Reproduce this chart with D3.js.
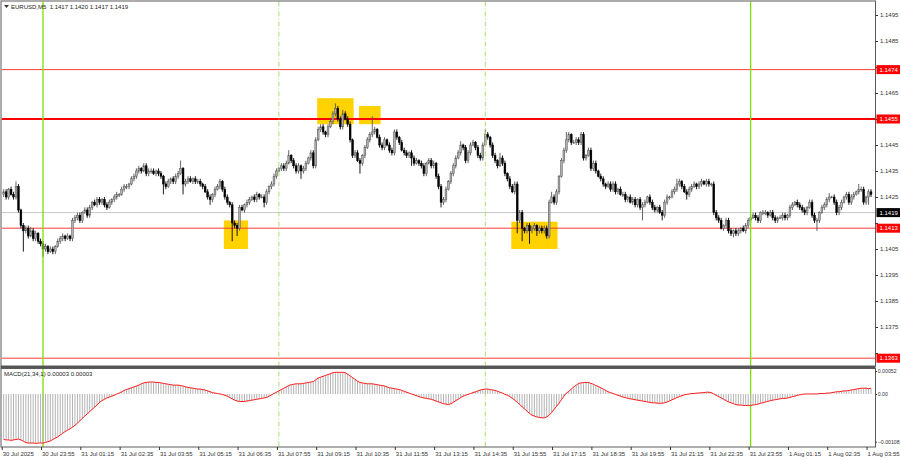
<!DOCTYPE html>
<html><head><meta charset="utf-8">
<script src="https://cdn.jsdelivr.net/npm/d3@7"></script>
<style>html,body{margin:0;padding:0;background:#fff;}svg{display:block;font-family:"Liberation Sans",Arial,sans-serif;}</style>
</head><body><svg id="c" width="900" height="460"></svg>
<script>
// closes in pips above 1.1400 (5-minute bars, open = previous close)
const firstOpen = 26;
const closes = [
27,25,28,26,25,29,20,14,12,13,
10,12,9,11,8,7,5,6,4,5,
4,6,8,9,10,9,10,9,16,17,
18,16,19,20,18,21,23,22,24,23,
24,22,21,23,24,25,26,26,28,29,
29,30,32,33,35,36,35,37,34,35,
35,34,35,34,33,30,29,31,32,31,
33,34,36,30,31,32,31,32,31,31,
30,29,27,25,24,26,28,29,31,28,
25,23,22,15,14,13,21,20,22,23,
24,25,24,26,25,25,23,27,29,30,
33,35,36,37,36,38,41,39,37,35,
37,35,36,38,40,42,37,47,51,52,
50,49,52,54,57,59,55,52,57,55,
53,47,41,42,39,38,41,44,47,49,
50,51,48,45,44,47,45,43,42,50,
48,46,43,42,41,42,40,38,39,38,
37,34,38,39,37,38,33,29,23,24,
28,31,34,37,40,42,45,44,39,42,
45,46,44,41,40,45,49,48,45,41,
39,37,40,38,34,32,29,27,30,16,
19,13,12,14,12,13,14,12,13,12,
13,10,23,25,23,27,33,39,43,47,
49,46,46,47,46,49,40,41,43,36,
38,35,33,32,30,29,30,28,30,27,
28,26,26,24,25,23,24,22,24,21,
22,23,25,23,21,20,21,19,18,23,
25,25,27,28,30,31,29,27,26,28,
29,30,29,30,31,30,31,30,30,19,
17,16,13,14,16,12,11,12,11,12,
13,12,14,16,17,18,17,16,19,19,
19,18,19,17,16,17,17,18,17,18,
21,22,23,22,21,20,19,21,23,18,
16,16,19,21,22,24,25,25,23,19,
21,23,25,26,23,25,26,27,28,28,
23,25,27,26];
// upper wick (pips above body)
const upWick = [
1,1,0.5,1,1,2,1,0.5,1,1,
1,1.5,1,1,0.5,1,1,1,0.5,1,
1,0.5,1,1,1,0.5,1,0.5,1,1,
1,1,0.5,1,1,1,0.5,1,1,1,
0.5,1,1,1,0.5,1,1,0.5,1,1,
1,0.5,1,1,1,1,0.5,1,1,1,
1,1,0.5,1,1,0.5,1,1,0.5,1,
1,1,3,0.5,1,1,1,0.5,1,1,
1,0.5,1,1,1,0.5,1,1,1,0.5,
1,1,0.5,1,1,1,1,1,0.5,1,
1,0.5,1,1,0.5,1,1,1,0.5,1,
1,1,0.5,1,1,1,2,0.5,1,1,
1,0.5,1,1,0.5,1,1,1,1,1,
1,0.5,1,1,1,2,1,1,1.5,1,
1,1,0.5,1,1,1,0.5,1,1,1,
6,1,0.5,1,1,1,0.5,1,1,1,
1,0.5,1,1,1,0.5,1,1,1,0.5,
1,1,0.5,1,1,1,0.5,1,1,1,
1,0.5,1,1,1,1,1.5,0.5,1,1,
1,1,0.5,1,1,1,2,1,0.5,1,
1,0.5,2,1,1,0.5,1,1,1,1,
1,1,0.5,1,1,1,1,0.5,1,1,
1,1,1,2,1,1,0.5,1,1,3,
1,0.5,1,1,1,1,1,0.5,1,1,
1,1,0.5,1,1,0.5,1,1,1,1,
0.5,1,1,1,0.5,1,1,1,0.5,1,
1,1,0.5,1,1,1,0.5,1,1,1,
1,0.5,1,1,2,1,0.5,1,1,1,
1,1,0.5,1,1,0.5,1,1,0.5,1,
1,1,1,0.5,1,1,1,0.5,1,1,
0.5,1,1,1,0.5,1,1,1,0.5,1,
1,0.5,1,1,1,0.5,1,1,1,0.5,
1,1,0.5,1,1,1,1,0.5,1,1,
1,1,0.5,1,1,1,1.5,0.5,1,1,
1,1,0.5,1,1,1,1,0.5,2,1,
1,0.5,1,1];
// lower wick (pips below body)
const downWick = [
1,1,1,0.5,1,1,1,1,8,1,
1,0.5,1,1,1,1,3,1,1,0.5,
1,1,0.5,1,1,1,0.5,1,1,1,
1,1,1,0.5,1,1,1,0.5,1,1,
1,1,1,0.5,1,1,1,1,0.5,1,
1,1,0.5,1,1,1,1,0.5,1,1,
1,0.5,1,1,1,4,1,0.5,1,1,
1,1,0.5,4,1,1,0.5,1,1,1,
1,1,0.5,1,2,1,1,0.5,1,1,
1,1,1,7,1,3,1,0.5,1,1,
1,0.5,1,1,1,0.5,2,1,1,1,
1,1,0.5,1,1,1,0.5,1,1,1,
1,3,1,1,0.5,1,1,1,0.5,1,
1,1,1,0.5,1,1,1,1,1,0.5,
1,1,1,1,0.5,4,1,1,0.5,1,
1,1,0.5,1,1,1,0.5,1,1,1,
1,1,0.5,1,1,1,3,1,0.5,1,
1,1,1,0.5,1,1,1,1,2,1,
1,0.5,1,1,1,0.5,1,1,1,1,
1,0.5,1,1,1,1,0.5,1,1,1,
1,1,0.5,1,1,1,1,0.5,1,5,
1,5,1,1,5,1,1,2,1,1,
1,1,1,0.5,1,1,1,0.5,1,1,
1,1,0.5,1,1,1,1,1,0.5,1,
1,1,0.5,1,1,1,0.5,1,1,1,
1,0.5,1,1,1,0.5,1,1,1,1,
5,1,0.5,1,1,1,1,0.5,2,1,
1,1,0.5,1,1,1,1,0.5,2,1,
1,0.5,1,1,1,0.5,1,1,1,1,
1,1,0.5,1,1,1,1,1.5,1,1,
1,0.5,1,1,1,0.5,1,1,1,1,
1,1,0.5,1,1,1,0.5,1,1,1,
1,1,0.5,1,1,1,1,1,0.5,1,
1,4,1,0.5,1,1,1,0.5,1,1,
1,1,0.5,1,1,1,1,0.5,1,1,
1,1,3,1];
// MACD(21,34,1) main values in units of 0.00001
const macd = [
-103,-104,-104,-105,-104,-103,-102,-104,-107,-110,
-111,-111,-111,-112,-111,-111,-111,-110,-108,-106,
-103,-100,-97,-93,-89,-85,-82,-79,-75,-71,
-66,-61,-55,-50,-45,-40,-35,-30,-25,-19,
-15,-12,-9,-7,-5,-3,0,2,5,8,
10,12,14,16,18,20,23,25,26,27,
27,27,26,26,25,24,23,22,21,20,
20,20,19,18,16,15,14,13,12,11,
11,10,9,7,5,3,2,1,0,-1,
-3,-5,-8,-11,-14,-16,-17,-17,-17,-16,
-15,-14,-13,-12,-11,-10,-9,-8,-5,-2,
1,4,7,10,13,16,19,21,22,23,
23,23,24,25,26,27,28,32,36,38,
40,42,44,46,48,49,49,49,49,48,
45,41,37,33,29,26,25,24,23,23,
23,22,21,20,19,18,16,14,13,12,
11,10,8,6,4,2,0,-2,-4,-6,
-8,-9,-10,-11,-12,-14,-16,-18,-20,-22,
-23,-24,-22,-19,-15,-12,-8,-5,-3,-1,
1,3,5,7,9,10,11,11,10,9,
8,6,4,2,-1,-3,-6,-10,-14,-19,
-24,-29,-34,-39,-44,-48,-50,-52,-53,-54,
-54,-52,-48,-42,-35,-28,-21,-13,-5,2,
6,11,16,20,24,25,26,26,26,24,
22,19,17,14,11,8,5,3,1,-1,
-3,-5,-7,-8,-10,-11,-12,-13,-14,-15,
-16,-17,-18,-19,-20,-20,-21,-21,-21,-20,
-18,-16,-13,-11,-8,-6,-4,-2,-1,0,
1,1,2,2,3,3,4,4,3,0,
-3,-6,-9,-12,-15,-18,-20,-22,-24,-25,
-25,-26,-26,-26,-26,-25,-24,-23,-21,-20,
-18,-17,-15,-14,-13,-12,-11,-10,-10,-9,
-8,-6,-5,-3,-2,-1,0,0,0,0,
0,0,1,1,1,2,2,3,4,5,
5,6,7,7,8,9,10,11,12,13,
13,13,12,13];

const priceTicks = [1.1495,1.1485,1.1475,1.1465,1.1455,1.1445,1.1435,1.1425,1.1415,1.1405,1.1395,1.1385,1.1375,1.1365];
const levels = [1.1474, 1.1455, 1.1413, 1.1363];
const lastPrice = 1.1419;
const macdTicks = [0.00052, 0, -0.00108];
// zones: [first bar, last bar, low price, high price]
const zones = [[90,99,1.1405,1.1416],[128,142,1.1453,1.1463],[145,153,1.1453,1.1460],[207,225,1.1405,1.14155]];
const daySeparators = [16, 304];
const sessionLines = [112, 196];
const timeLabels = ["30 Jul 2025","30 Jul 23:55","31 Jul 01:15","31 Jul 02:35","31 Jul 03:55","31 Jul 05:15","31 Jul 06:35","31 Jul 07:55","31 Jul 09:15","31 Jul 10:35","31 Jul 11:55","31 Jul 13:15","31 Jul 14:35","31 Jul 15:55","31 Jul 17:15","31 Jul 18:35","31 Jul 19:55","31 Jul 21:15","31 Jul 22:35","31 Jul 23:55","1 Aug 01:15","1 Aug 02:35","1 Aug 03:55"];
const header = "EURUSD,M5  1.1417 1.1420 1.1417 1.1419";
const macdHeader = "MACD(21,34,1) 0.00003 0.00003";

const svg = d3.select('#c');
const plotL = 1.5, plotR = 875.5, mainT = 1.5, mainB = 366, macdT = 369, macdB = 447;
const N = closes.length;
const x = d3.scaleLinear().domain([0, N - 1]).range([3.7, 3.7 + (N - 1) * 2.457]);
const y = d3.scaleLinear().domain([1.1360, 1.1500]).range([mainB, mainT + 0.5]);
const ym = d3.scaleLinear().domain([-0.00120, 0.000565]).range([macdB, macdT]);
const P = v => 1.14 + v / 10000;
const bars = closes.map((c, i) => {
  const o = i ? closes[i - 1] : firstOpen;
  return {i, o: P(o), c: P(c), h: P(Math.max(o, c) + upWick[i]), l: P(Math.min(o, c) - downWick[i])};
});
const FS = 6;
const FONT = '"Liberation Sans",Arial,sans-serif';

const defs = svg.append('defs');
defs.append('clipPath').attr('id','cm').append('rect').attr('x',plotL).attr('y',mainT).attr('width',plotR-plotL).attr('height',mainB-mainT);
defs.append('clipPath').attr('id','cd').append('rect').attr('x',plotL).attr('y',macdT).attr('width',plotR-plotL).attr('height',macdB-macdT);

const gm = svg.append('g').attr('clip-path','url(#cm)');
// yellow zones
gm.selectAll('rect.z').data(zones).join('rect')
  .attr('x', d => x(d[0]) - 1).attr('width', d => x(d[1]) - x(d[0]) + 2)
  .attr('y', d => y(d[3])).attr('height', d => y(d[2]) - y(d[3]))
  .attr('fill', '#ffd200');
// current price line
gm.append('line').attr('x1',plotL).attr('x2',plotR).attr('y1',y(lastPrice)).attr('y2',y(lastPrice)).attr('stroke','#c8c8c8').attr('stroke-width',1);
// level lines
gm.selectAll('line.lv').data(levels).join('line')
  .attr('x1',plotL).attr('x2',plotR).attr('y1',d=>y(d)).attr('y2',d=>y(d))
  .attr('stroke', (d,i)=> i===1 ? '#ff0000' : '#ff3c3c').attr('stroke-width',(d,i)=> i===1 ? 2 : 1);

// vertical lines across both panes
const vg = svg.append('g');
vg.selectAll('line.day').data(daySeparators).join('line')
  .attr('x1',d=>x(d)).attr('x2',d=>x(d)).attr('y1',mainT).attr('y2',macdB)
  .attr('stroke','#7fe000').attr('stroke-width',1.3);
vg.selectAll('line.ses').data(sessionLines).join('line')
  .attr('x1',d=>x(d)).attr('x2',d=>x(d)).attr('y1',mainT).attr('y2',macdB)
  .attr('stroke','#a8e070').attr('stroke-width',1).attr('stroke-dasharray','5,2,1,2');

// candles
const cg = gm.append('g');
cg.selectAll('line.w').data(bars).join('line')
  .attr('x1',d=>x(d.i)).attr('x2',d=>x(d.i)).attr('y1',d=>y(d.h)).attr('y2',d=>y(d.l))
  .attr('stroke',d=> d.c>=d.o ? '#555' : '#000').attr('stroke-width',0.9);
cg.selectAll('rect.b').data(bars).join('rect')
  .attr('x',d=>x(d.i)-0.9).attr('width',1.8)
  .attr('y',d=>y(Math.max(d.o,d.c)))
  .attr('height',d=>Math.max(0.8, Math.abs(y(d.o)-y(d.c))))
  .attr('fill',d=> d.c>=d.o ? '#b0b0b0' : '#000')
  .attr('stroke',d=> d.c>=d.o ? '#555' : '#000').attr('stroke-width',0.5);

// MACD
const gd = svg.append('g').attr('clip-path','url(#cd)');
gd.selectAll('line.h').data(macd).join('line')
  .attr('x1',(d,i)=>x(i)).attr('x2',(d,i)=>x(i)).attr('y1',ym(0)).attr('y2',d=>ym(d/100000))
  .attr('stroke','#b4b4b4').attr('stroke-width',1);
gd.append('path').datum(macd)
  .attr('d', d3.line().x((d,i)=>x(i)).y(d=>ym(d/100000)))
  .attr('fill','none').attr('stroke','#ff1a1a').attr('stroke-width',1);

// frames
const fr = svg.append('g').attr('fill','none').attr('stroke','#5a5a5a');
fr.append('rect').attr('x',plotL-0.5).attr('y',mainT-0.5).attr('width',plotR-plotL+0.5).attr('height',mainB-mainT+0.5).attr('stroke-width',1);
fr.append('line').attr('x1',plotL-1).attr('x2',plotR).attr('y1',367.2).attr('y2',367.2).attr('stroke-width',2.5).attr('stroke','#555');
fr.append('rect').attr('x',plotL-0.5).attr('y',macdT-0.5).attr('width',plotR-plotL+0.5).attr('height',macdB-macdT+0.5).attr('stroke-width',1);

// price axis (labels that sit under a price tag are hidden, as in the terminal)
const fmt = d3.format('.4f');
const tagVals = levels.concat([lastPrice]);
const ay = svg.append('g').attr('transform',`translate(${plotR},0)`)
  .call(d3.axisRight(y).tickValues(priceTicks).tickFormat(fmt).tickSize(2.5).tickPadding(2));
ay.select('.domain').remove();
ay.selectAll('line').attr('stroke','#333');
ay.selectAll('text').attr('font-size',FS).attr('fill','#333').attr('font-family',FONT)
  .style('display', d => tagVals.some(t => Math.abs(y(t)-y(d)) < 8) ? 'none' : null);

// price label boxes
const tags = levels.map(v=>({v, bg:'#ff0000'})).concat([{v:lastPrice, bg:'#000'}]);
const tg = svg.append('g');
tg.selectAll('rect').data(tags).join('rect')
  .attr('x',plotR+1).attr('width',24).attr('y',d=>y(d.v)-4.5).attr('height',9).attr('fill',d=>d.bg);
tg.selectAll('text').data(tags).join('text')
  .attr('x',plotR+4).attr('y',d=>y(d.v)+2.1).text(d=>fmt(d.v))
  .attr('fill','#fff').attr('font-size',FS).attr('font-family',FONT);

// MACD axis
const am = svg.append('g').attr('transform',`translate(${plotR},0)`)
  .call(d3.axisRight(ym).tickValues(macdTicks).tickFormat(d => d===0 ? '0.00' : d3.format('.5f')(d)).tickSize(1.5).tickPadding(0.8));
am.select('.domain').remove();
am.selectAll('line').attr('stroke','#333');
am.selectAll('text').attr('font-size',5.2).attr('fill','#333').attr('font-family',FONT);

// time axis
const tb = timeLabels.map((t,k)=>k*16);
const ax = svg.append('g').attr('transform',`translate(0,${macdB})`)
  .call(d3.axisBottom(x).tickValues(tb).tickFormat((d,k)=>timeLabels[k]).tickSize(3).tickPadding(2));
ax.select('.domain').remove();
ax.selectAll('line').attr('stroke','#333').attr('transform','translate(-2,0)');
ax.selectAll('text').attr('text-anchor','start').attr('dx','-1.5').attr('font-size',FS).attr('fill','#333').attr('font-family',FONT);

// headers
svg.append('path').attr('d','M4,5 L9,5 L6.5,8 Z').attr('fill','#333');
svg.append('text').attr('x',11).attr('y',9).text(header).attr('font-size',FS).attr('fill','#222').attr('font-family',FONT).style('white-space','pre');
svg.append('text').attr('x',4).attr('y',376).text(macdHeader).attr('font-size',FS).attr('fill','#222').attr('font-family',FONT);
</script></body></html>
